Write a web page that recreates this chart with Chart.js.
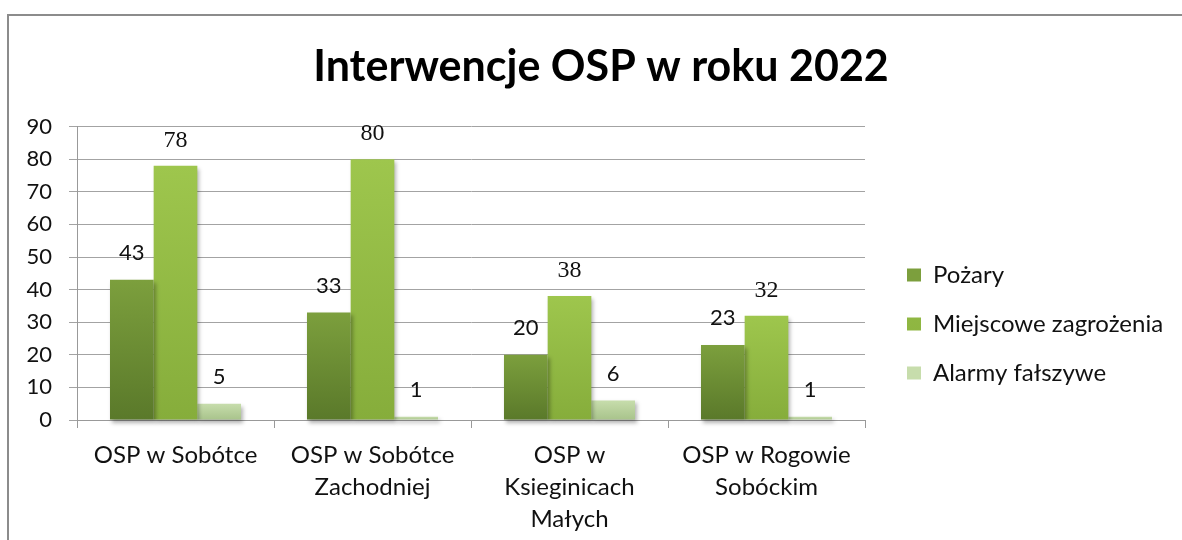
<!DOCTYPE html>
<html>
<head>
<meta charset="utf-8">
<script src="https://cdn.jsdelivr.net/npm/chart.js@4.4.1/dist/chart.umd.min.js"></script>
<style>
  html, body { margin: 0; padding: 0; background: #fff; overflow: hidden; }
  #stage { position: relative; width: 1182px; height: 540px; overflow: hidden; }
  #frame { position: absolute; left: 7px; top: 14px; width: 1200px; height: 700px; border: 2px solid #8c8c8c; }
  #osp { position: absolute; left: 0; top: 0; }
</style>
</head>
<body>
<div id="stage">
  <div id="frame"></div>
  <canvas id="osp" width="1182" height="648"></canvas>
</div>
<script>
// data
const units = [
  ["OSP w Sobótce"],
  ["OSP w Sobótce", "Zachodniej"],
  ["OSP w", "Ksieginicach", "Małych"],
  ["OSP w Rogowie", "Sobóckim"]
];
const seriesNames = ["Pożary", "Miejscowe zagrożenia", "Alarmy fałszywe"];
const pozary = [43, 33, 20, 23];
const miejscowe = [78, 80, 38, 32];
const alarmy = [5, 1, 6, 1];
const yMax = 90;
const yStep = 10;

// gradient stops (top, bottom) and legend swatch colour per series
const fills = [
  ["#7c9f3d", "#5a792a", "#6d8f35"],
  ["#9ec64d", "#86ad3b", "#93bb44"],
  ["#c7ddac", "#a8c38b", "#b5cf9a"]
];
// Miejscowe labels come out in a serif face in the original
const labelFonts = ["22px Lato", "24px 'Liberation Serif'", "22px Lato"];
const labelLift = [27, 25, 27];

function barFill(i) {
  return function (c) {
    const chart = c.chart;
    if (!chart.chartArea || !c.parsed) return fills[i][2];
    const y = chart.scales.y;
    const g = chart.ctx.createLinearGradient(0, y.getPixelForValue(0), 0, y.getPixelForValue(c.parsed.y));
    g.addColorStop(0, fills[i][1]);
    g.addColorStop(1, fills[i][0]);
    return g;
  };
}

// plot area edges in the picture
const plotLeft = 77, plotRight = 865, plotBottom = 420;

// legend width, so the plot ends where it should
const legendFontSize = 24;
const legendPad = 25;
const boxW = 14;
const m = document.createElement("canvas").getContext("2d");
m.font = legendFontSize + "px Lato";
const textW = Math.max(...seriesNames.map(n => m.measureText(n).width));
const legendW = legendPad + boxW + legendFontSize / 2 + textW + 10;
const padL = -100;
const padR = 1182 - plotRight - legendW;

const shadow = {
  id: "shadow",
  beforeDatasetsDraw(chart) {
    const ctx = chart.ctx;
    ctx.save();
    ctx.shadowColor = "rgba(0,0,0,0.3)";
    ctx.shadowBlur = 4;
    ctx.shadowOffsetX = 2;
    ctx.shadowOffsetY = 3;
  },
  afterDatasetsDraw(chart) {
    chart.ctx.restore();
  }
};

const valueLabels = {
  id: "valueLabels",
  afterDatasetsDraw(chart) {
    const ctx = chart.ctx;
    chart.data.datasets.forEach((ds, i) => {
      const meta = chart.getDatasetMeta(i);
      ctx.save();
      ctx.font = labelFonts[i];
      ctx.fillStyle = "#111";
      ctx.textAlign = "center";
      ctx.textBaseline = "middle";
      meta.data.forEach((bar, j) => {
        ctx.fillText(ds.data[j], bar.x, bar.y - labelLift[i]);
      });
      ctx.restore();
    });
  }
};

// title centred on the whole frame, legend nudged off the plot
const nudge = {
  id: "nudge",
  afterLayout(chart) {
    const t = chart.titleBlock;
    t.left = 0;
    t.right = 1202;
    t.width = 1202;
    const lg = chart.legend;
    lg.left += 17;
    lg.right += 17;
  }
};

const ctx = document.getElementById("osp").getContext("2d");
new Chart(ctx, {
  type: "bar",
  data: {
    labels: units,
    datasets: [
      { label: seriesNames[0], data: pozary, backgroundColor: barFill(0) },
      { label: seriesNames[1], data: miejscowe, backgroundColor: barFill(1) },
      { label: seriesNames[2], data: alarmy, backgroundColor: barFill(2) }
    ]
  },
  options: {
    responsive: false,
    animation: false,
    layout: { padding: { left: padL, right: padR, top: 0, bottom: 0 } },
    datasets: {
      bar: { categoryPercentage: 0.665, barPercentage: 1, borderWidth: 0, clip: false }
    },
    plugins: {
      title: {
        display: true,
        text: "Interwencje OSP w roku 2022",
        color: "#000",
        font: { family: "Lato", size: 43, weight: "bold", lineHeight: 1.2 },
        padding: { top: 41, bottom: 34 }
      },
      legend: {
        position: "right",
        labels: {
          color: "#111",
          font: { family: "Lato", size: legendFontSize },
          boxWidth: boxW,
          boxHeight: 13,
          padding: legendPad
        }
      },
      tooltip: { enabled: false }
    },
    scales: {
      x: {
        grid: { offset: true, drawOnChartArea: false, color: "#999", tickLength: 8 },
        border: { color: "#999" },
        ticks: {
          color: "#111",
          padding: 11,
          maxRotation: 0,
          font: { family: "Lato", size: 24, lineHeight: 32 / 24 }
        },
        afterFit(s) { s.height = 648 - plotBottom; }
      },
      y: {
        min: 0,
        max: yMax,
        grid: { color: "#a3a3a3", tickLength: 8 },
        border: { color: "#999" },
        ticks: {
          stepSize: yStep,
          color: "#111",
          padding: 17,
          font: { family: "Lato", size: 22 }
        },
        afterFit(s) { s.width = plotLeft - padL; }
      }
    }
  },
  plugins: [shadow, valueLabels, nudge]
});
</script>
</body>
</html>
